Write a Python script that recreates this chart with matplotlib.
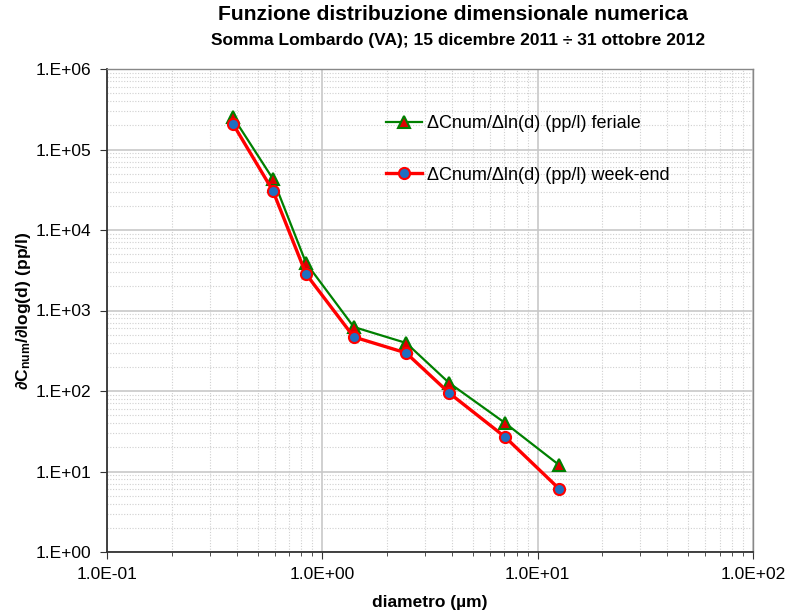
import numpy as np
import matplotlib
matplotlib.use("Agg")
import matplotlib.pyplot as plt
from matplotlib.ticker import FixedLocator, LogLocator, FuncFormatter, NullFormatter

plt.rcParams['font.family'] = ['Liberation Sans', 'DejaVu Sans']
plt.rcParams['mathtext.fontset'] = 'custom'
plt.rcParams['mathtext.rm'] = 'Liberation Sans'
plt.rcParams['mathtext.bf'] = 'Liberation Sans:bold'

# diametro (um) e distribuzione numerica
diametro = [0.385, 0.59, 0.84, 1.40, 2.45, 3.88, 7.06, 12.6]
feriale = [2.53e5, 4.3e4, 3.9e3, 624, 395, 126, 40, 12.0]
weekend = [2.07e5, 3.05e4, 2.84e3, 469, 297, 94.5, 26.8, 6.07]

x_ticks = [0.1, 1, 10, 100]
y_ticks = [1, 10, 100, 1e3, 1e4, 1e5, 1e6]

fig = plt.figure(figsize=(7.9, 6.16), dpi=100)
ax = fig.add_axes([107/790, 64/616, 646/790, 483/616])

ax.plot(diametro, feriale, '-', color='#008000', lw=1.6, marker='^',
        markersize=8, markerfacecolor='#e00000', markeredgecolor='#008000',
        markeredgewidth=1.5, label='ΔCnum/Δln(d) (pp/l) feriale', zorder=3)
ax.plot(diametro, weekend, '-', color='#ff0000', lw=2.4, marker='o',
        markersize=8, markerfacecolor='#1f6fc0', markeredgecolor='#ff0000',
        markeredgewidth=1.5, label='ΔCnum/Δln(d) (pp/l) week-end', zorder=3)

ax.set_xscale('log')
ax.set_yscale('log')
ax.set_xlim(0.1, 100)
ax.set_ylim(1, 1e6)

ax.xaxis.set_major_locator(FixedLocator(x_ticks))
ax.yaxis.set_major_locator(FixedLocator(y_ticks))
ax.xaxis.set_minor_locator(LogLocator(base=10, subs=np.arange(2, 10)))
ax.yaxis.set_minor_locator(LogLocator(base=10, subs=np.arange(2, 10)))
ax.xaxis.set_major_formatter(FuncFormatter(lambda v, p: '1.0E%+03d' % round(np.log10(v))))
ax.yaxis.set_major_formatter(FuncFormatter(lambda v, p: '1.E%+03d' % round(np.log10(v))))
ax.xaxis.set_minor_formatter(NullFormatter())
ax.yaxis.set_minor_formatter(NullFormatter())

ax.tick_params(axis='both', which='major', direction='out', length=5, labelsize=12.5,
               color='#333333', pad=6)
ax.tick_params(axis='x', which='minor', direction='out', length=3, color='#333333')
ax.tick_params(axis='y', which='minor', length=0)

ax.grid(True, which='major', color='#c8c8c8', lw=1.2, ls='-')
ax.grid(True, which='minor', color='#d0d0d0', lw=0.8, ls=(0, (1, 1.5)))
ax.set_axisbelow(True)

for s in ['left', 'bottom']:
    ax.spines[s].set_color('#333333')
    ax.spines[s].set_linewidth(1.3)
for s in ['top', 'right']:
    ax.spines[s].set_color('#888888')
    ax.spines[s].set_linewidth(1.0)

ax.set_xlabel('diametro (µm)', fontsize=12.5, fontweight='bold', labelpad=9)
ax.set_ylabel(r'$\mathbf{\partial C_{num}/\partial log(d)\ (pp/l)}$', fontsize=12.5, labelpad=2)

fig.text(453/790, 1 - 15/616, 'Funzione distribuzione dimensionale numerica',
         ha='center', va='center', fontsize=15.2, fontweight='bold')
fig.text(458/790, 1 - 40/616, 'Somma Lombardo (VA); 15 dicembre 2011 ÷ 31 ottobre 2012',
         ha='center', va='center', fontsize=12.5, fontweight='bold')

ax.legend(loc='upper left', bbox_to_anchor=(0.432, 0.904), frameon=False,
          fontsize=13, handlelength=2.0, handletextpad=0.25, labelspacing=1.9,
          borderpad=0, borderaxespad=0)

fig.savefig('out.png', dpi=100)
